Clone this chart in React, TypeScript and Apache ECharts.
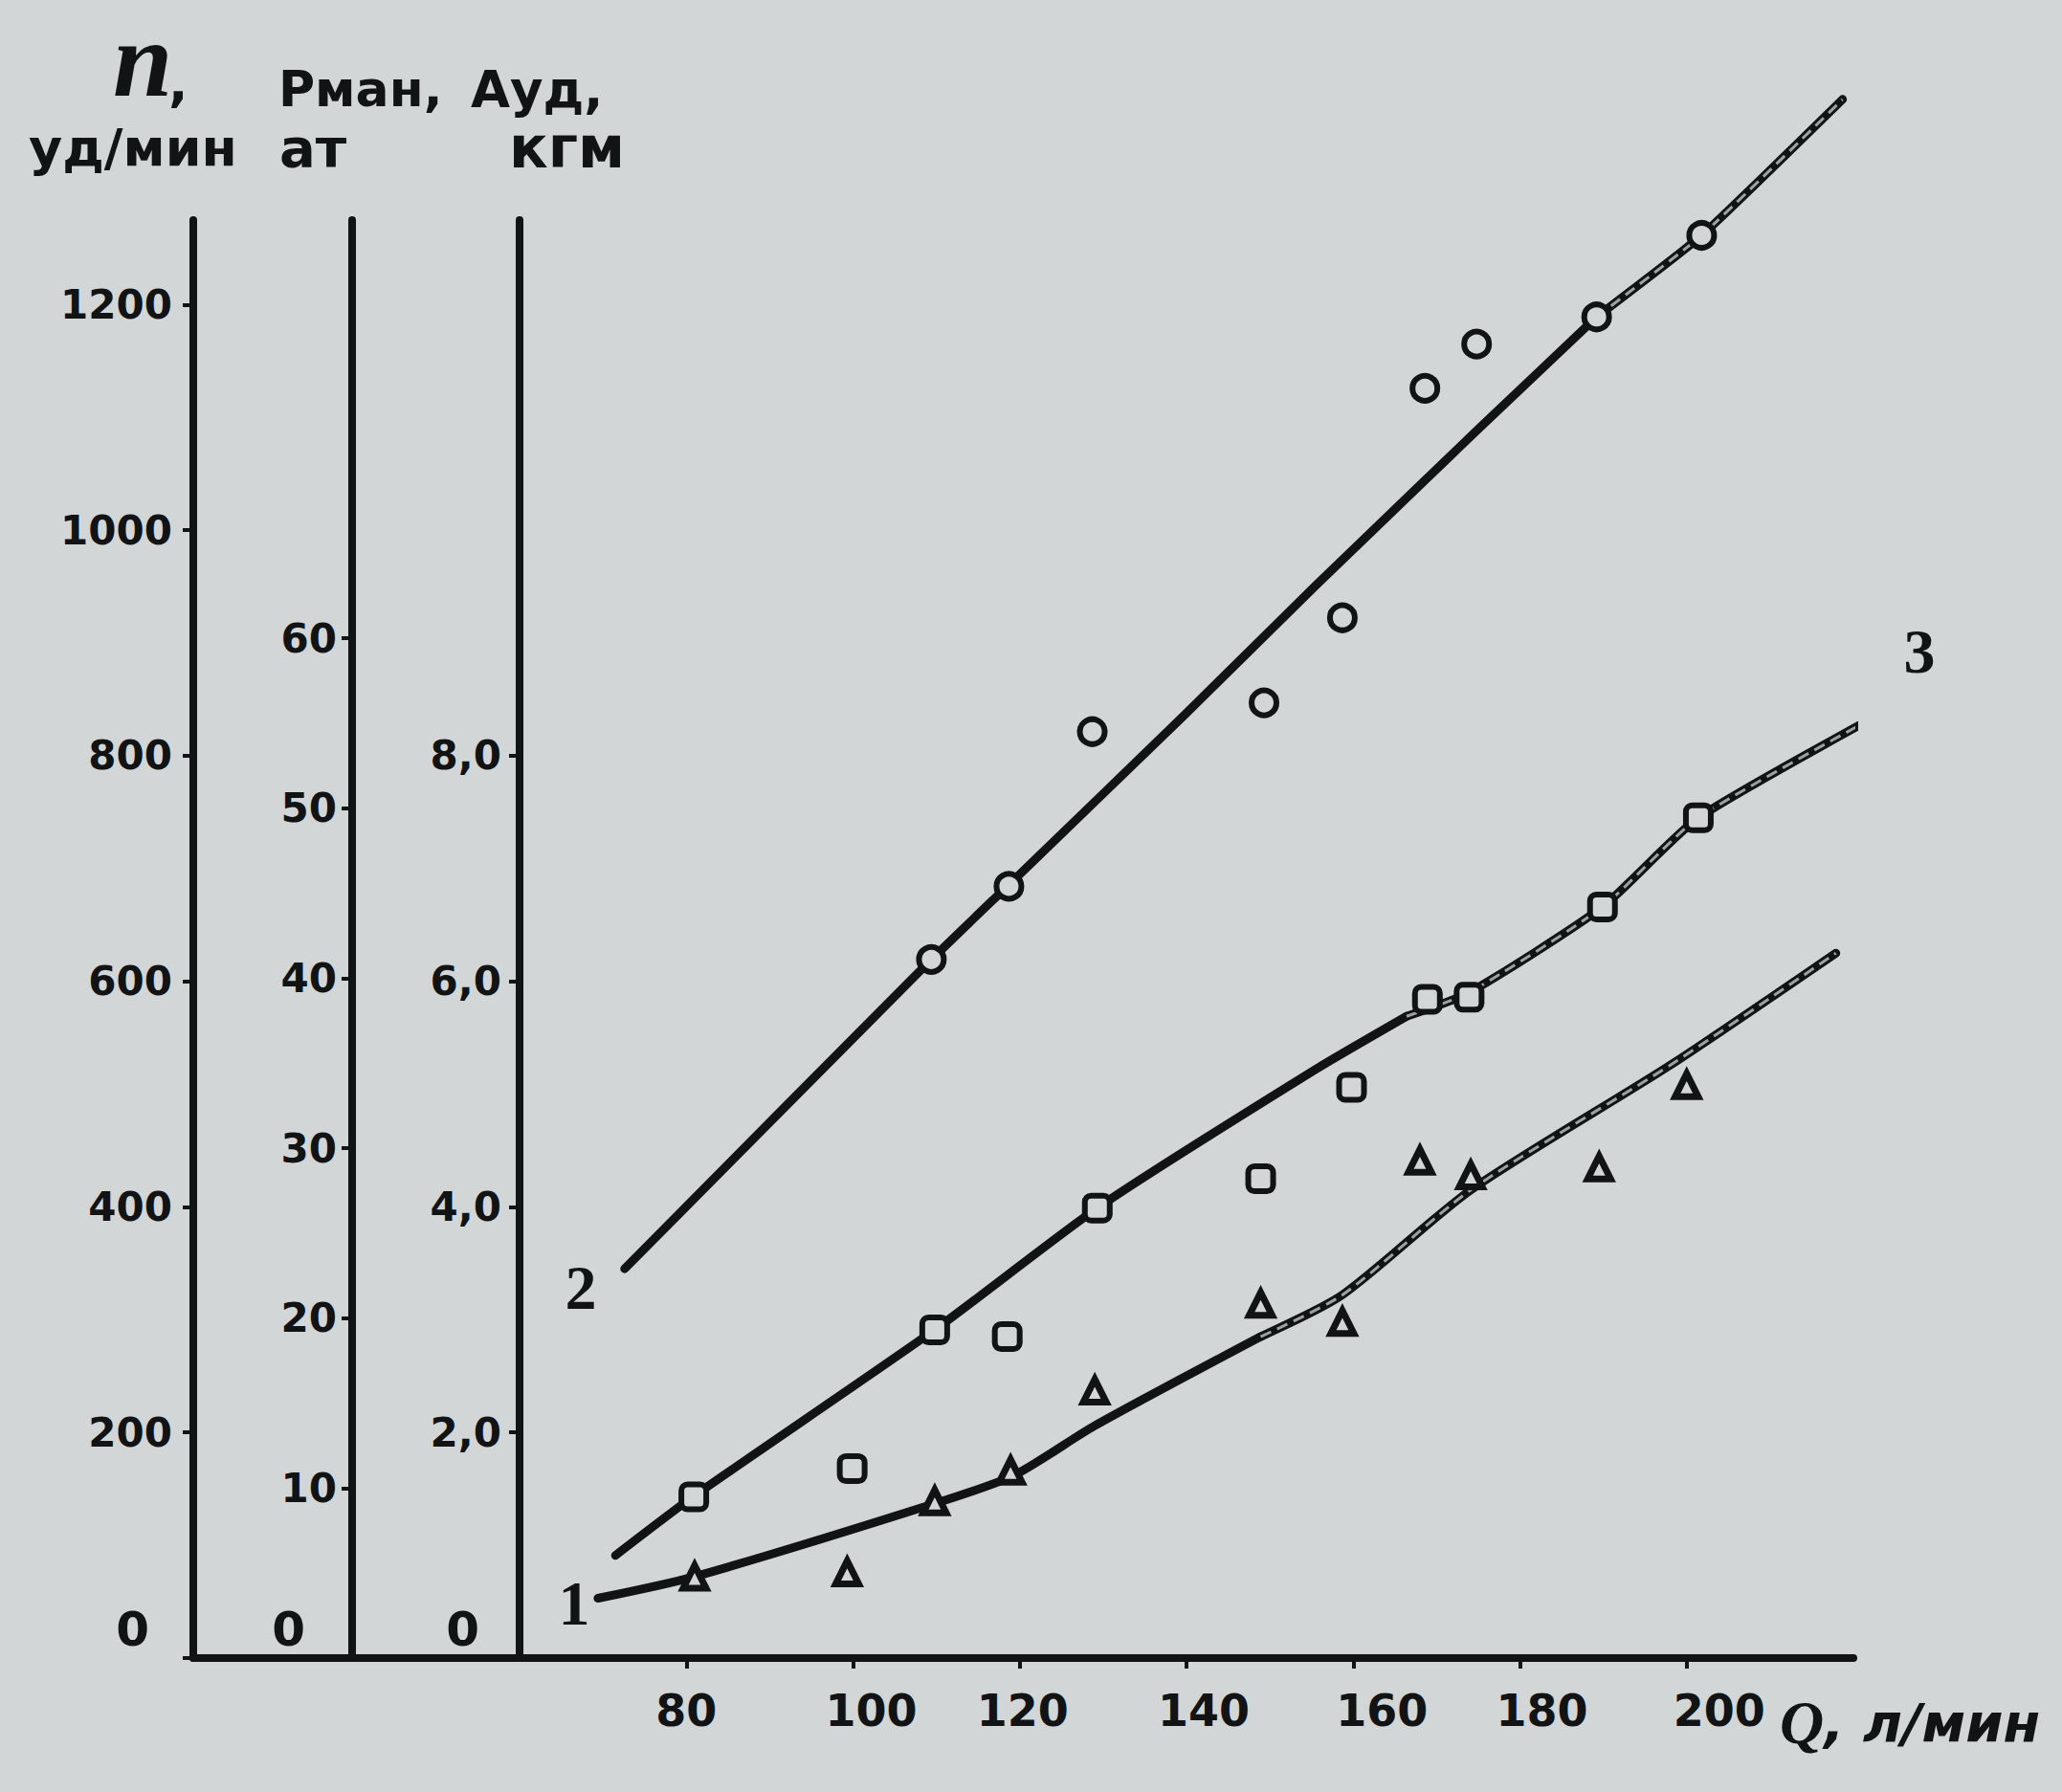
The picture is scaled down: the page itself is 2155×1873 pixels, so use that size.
import React, { useEffect, useRef } from 'react';
import * as echarts from 'echarts';

// ---------- data ----------
// x: Q, л/мин ; curve 1 (triangles) on n axis, curve 2 (circles) on Pман axis, curve 3 (squares) on Aуд axis
const qTicks = [80, 100, 120, 140, 160, 180, 200];
const nTicks = [0, 200, 400, 600, 800, 1000, 1200];
const pTicks = [0, 10, 20, 30, 40, 50, 60];
const aTicks = [0, 2, 4, 6, 8];

// curve 1 (n), fitted line: solid lower part and lighter upper part
const q1Line = [69.4, 80.9, 109.8, 119.3, 129.0, 148.9];
const n1Line = [53, 72, 137, 162, 206, 285];
const q1Upper = [148.9, 158.7, 174.1, 198.3, 217.9];
const n1Upper = [285, 322, 415, 527, 625];
// curve 1 measured points (triangles)
const q1Pts = [81.0, 99.3, 109.8, 118.9, 129.0, 148.9, 158.7, 168.0, 174.1, 189.5, 200.0];
const n1Pts = [72, 76, 139, 166, 237, 314, 298, 441, 428, 435, 508];

// curve 2 (Pман), fitted line
const q2Line = [72.6, 109.4, 118.7, 139.8, 155.5, 175.0, 189.2];
const p2Line = [22.9, 41.1, 45.5, 55.5, 63.1, 72.3, 78.9];
const q2Upper = [189.2, 201.8, 218.7];
const p2Upper = [78.9, 83.7, 91.7];
// curve 2 measured points (circles)
const q2Pts = [109.4, 118.7, 128.7, 149.3, 158.7, 168.6, 174.8, 189.2, 201.8];
const p2Pts = [41.1, 45.4, 54.5, 56.2, 61.2, 74.7, 77.3, 78.9, 83.7];

// curve 3 (Aуд), fitted line
const q3Line = [71.5, 80.8, 109.8, 129.3, 155.5, 166.4];
const a3Line = [0.91, 1.43, 2.91, 3.99, 5.22, 5.69];
const q3Upper = [166.4, 173.9, 189.9, 201.4, 225.9];
const a3Upper = [5.69, 5.9, 6.66, 7.45, 8.48];
// curve 3 measured points (squares)
const q3Pts = [80.9, 99.9, 109.8, 118.5, 129.3, 148.9, 159.8, 168.9, 173.9, 189.9, 201.4];
const a3Pts = [1.43, 1.68, 2.91, 2.85, 3.99, 4.25, 5.06, 5.84, 5.86, 6.66, 7.45];

// ---------- style ----------
const BG = '#d3d6d7';
const INK = '#121314';
const CHAIN = '#9da1a3';
const LABEL_FONT = '"DejaVu Sans", sans-serif';
// hand-lettered x labels sit slightly right of their ticks (px)
const X_LABEL_NUDGE: Record<number, number> = { 80: 0, 100: 19, 120: 3, 140: 18, 160: 30, 180: 23, 200: 34 };

const pairs = (xs: number[], ys: number[]) => xs.map((x, i) => [x, ys[i]]);

function makeYAxis(offset: number, max: number, ticks: number[], margin: number, zeroPad: number[], fmt: (v: number) => string) {
  return {
    gridIndex: 0,
    type: 'value',
    position: 'left',
    offset,
    min: 0,
    max,
    axisLine: { show: true, lineStyle: { color: INK, width: 8, cap: 'round' } },
    axisTick: { show: true, customValues: ticks, length: 11, lineStyle: { color: INK, width: 4 } },
    axisLabel: {
      customValues: ticks,
      margin,
      color: INK,
      fontSize: 42,
      fontWeight: 'bold',
      fontFamily: LABEL_FONT,
      formatter: (v: number) => (v === 0 ? '{z|0}' : fmt(v)),
      rich: {
        z: { padding: zeroPad, fontSize: 50, fontWeight: 'bold', fontFamily: LABEL_FONT, color: INK },
      },
    },
    splitLine: { show: false },
  };
}

function solidLine(xs: number[], ys: number[], yAxisIndex: number, smooth: number) {
  return {
    type: 'line',
    xAxisIndex: 0,
    yAxisIndex,
    data: pairs(xs, ys),
    symbol: 'none',
    smooth,
    clip: false,
    lineStyle: { color: INK, width: 9, cap: 'round', join: 'round' },
    z: 2,
  };
}

function chainLine(xs: number[], ys: number[], yAxisIndex: number, smooth: number) {
  return [
    {
      type: 'line',
      xAxisIndex: 0,
      yAxisIndex,
      data: pairs(xs, ys),
      symbol: 'none',
      smooth,
      clip: false,
      lineStyle: { color: INK, width: 9, cap: 'round', join: 'round' },
      z: 2,
    },
    {
      type: 'line',
      xAxisIndex: 0,
      yAxisIndex,
      data: pairs(xs, ys),
      symbol: 'none',
      smooth,
      clip: false,
      lineStyle: { color: CHAIN, width: 3, type: [12, 7], cap: 'butt' },
      z: 3,
    },
  ];
}

function points(xs: number[], ys: number[], yAxisIndex: number, symbol: string, size: number, border: number) {
  return {
    type: 'scatter',
    xAxisIndex: 0,
    yAxisIndex,
    data: pairs(xs, ys),
    symbol,
    symbolSize: size,
    clip: false,
    itemStyle: { color: BG, borderColor: INK, borderWidth: border, opacity: 1 },
    z: 5,
  };
}

function text(t: string, x: number, y: number, font: string, align = 'left') {
  return {
    type: 'text',
    x,
    y,
    z: 10,
    style: {
      text: t,
      font,
      fill: INK,
      textAlign: align,
      align,
      textVerticalAlign: 'middle',
      verticalAlign: 'middle',
    },
  };
}

export default function App() {
  const ref = useRef<HTMLDivElement>(null);

  useEffect(() => {
    document.body.style.margin = '0';
    if (!ref.current) return;
    const chart = echarts.init(ref.current, undefined, { renderer: 'svg' });

    const xRich: Record<string, any> = {};
    qTicks.forEach((v) => {
      xRich['s' + v] = {
        padding: [0, 0, 0, 2 * (X_LABEL_NUDGE[v] || 0)],
        fontSize: 46,
        fontWeight: 'bold',
        fontFamily: LABEL_FONT,
        color: INK,
      };
    });

    const option: any = {
      animation: false,
      backgroundColor: BG,
      grid: [
        { left: 543, right: 218, top: 230, bottom: 140 },
        { left: 202, width: 341, top: 230, bottom: 140 },
      ],
      xAxis: [
        {
          gridIndex: 0,
          type: 'value',
          min: 60,
          max: 220,
          axisLine: { show: true, onZero: false, lineStyle: { color: INK, width: 8 } },
          axisTick: { show: true, customValues: qTicks, length: 11, lineStyle: { color: INK, width: 4 } },
          axisLabel: {
            customValues: qTicks,
            margin: 32,
            color: INK,
            fontSize: 46,
            fontWeight: 'bold',
            fontFamily: LABEL_FONT,
            formatter: (v: number) => `{s${v}|${v}}`,
            rich: xRich,
          },
          splitLine: { show: false },
        },
        {
          gridIndex: 1,
          type: 'value',
          min: 0,
          max: 1,
          axisLine: { show: true, onZero: false, lineStyle: { color: INK, width: 8 } },
          axisTick: { show: false },
          axisLabel: { show: false },
          splitLine: { show: false },
        },
      ],
      yAxis: [
        makeYAxis(0, 12.75, aTicks, 19, [0, 23, 60, 0], (v) => v.toFixed(1).replace('.', ',')),
        makeYAxis(175, 84.6, pTicks, 16, [0, 33, 60, 0], (v) => String(v)),
        makeYAxis(341, 1275, nTicks, 22, [0, 24, 60, 0], (v) => String(v)),
        { gridIndex: 1, type: 'value', min: 0, max: 1, show: false },
      ],
      series: [
        solidLine(q1Line, n1Line, 2, 0.25),
        ...chainLine(q1Upper, n1Upper, 2, 0.25),
        solidLine(q2Line, p2Line, 1, 0.15),
        ...chainLine(q2Upper, p2Upper, 1, 0.15),
        solidLine(q3Line, a3Line, 0, 0.2),
        ...chainLine(q3Upper, a3Upper, 0, 0.2),
        points(q1Pts, n1Pts, 2, 'triangle', 24, 7),
        points(q2Pts, p2Pts, 1, 'circle', 26, 6),
        points(q3Pts, a3Pts, 0, 'roundRect', 26, 6),
      ],
      graphic: [
        text('n', 118, 62, 'italic bold 112px "Liberation Serif", serif'),
        text(',', 176, 86, 'bold 54px "DejaVu Sans", sans-serif'),
        text('уд/мин', 30, 154, 'bold 54px "DejaVu Sans", sans-serif'),
        text('Рман,', 291, 93, 'bold 52px "DejaVu Sans", sans-serif'),
        text('ат', 292, 154, 'bold 56px "DejaVu Sans", sans-serif'),
        text('Ауд,', 492, 93, 'bold 53px "DejaVu Sans", sans-serif'),
        text('кгм', 532, 154, 'bold 60px "DejaVu Sans", sans-serif'),
        text('2', 607, 1345, 'bold 66px "Liberation Serif", serif', 'center'),
        text('1', 600, 1675, 'bold 66px "Liberation Serif", serif', 'center'),
        text('3', 2006, 680, 'bold 66px "Liberation Serif", serif', 'center'),
        {
          type: 'text',
          x: 1860,
          y: 1800,
          z: 10,
          style: {
            text: '{q|Q}{r|, л/мин}',
            textAlign: 'left',
            align: 'left',
            textVerticalAlign: 'middle',
            verticalAlign: 'middle',
            fill: INK,
            rich: {
              q: { font: 'italic bold 64px "Liberation Serif", serif', fill: INK, color: INK },
              r: { font: 'italic bold 56px "DejaVu Sans", sans-serif', fill: INK, color: INK },
            },
          },
        },
      ],
    };

    chart.setOption(option);
    return () => chart.dispose();
  }, []);

  return (
    <div
      ref={ref}
      style={{ position: 'absolute', left: 0, top: 0, width: 2155, height: 1873 }}
    />
  );
}
